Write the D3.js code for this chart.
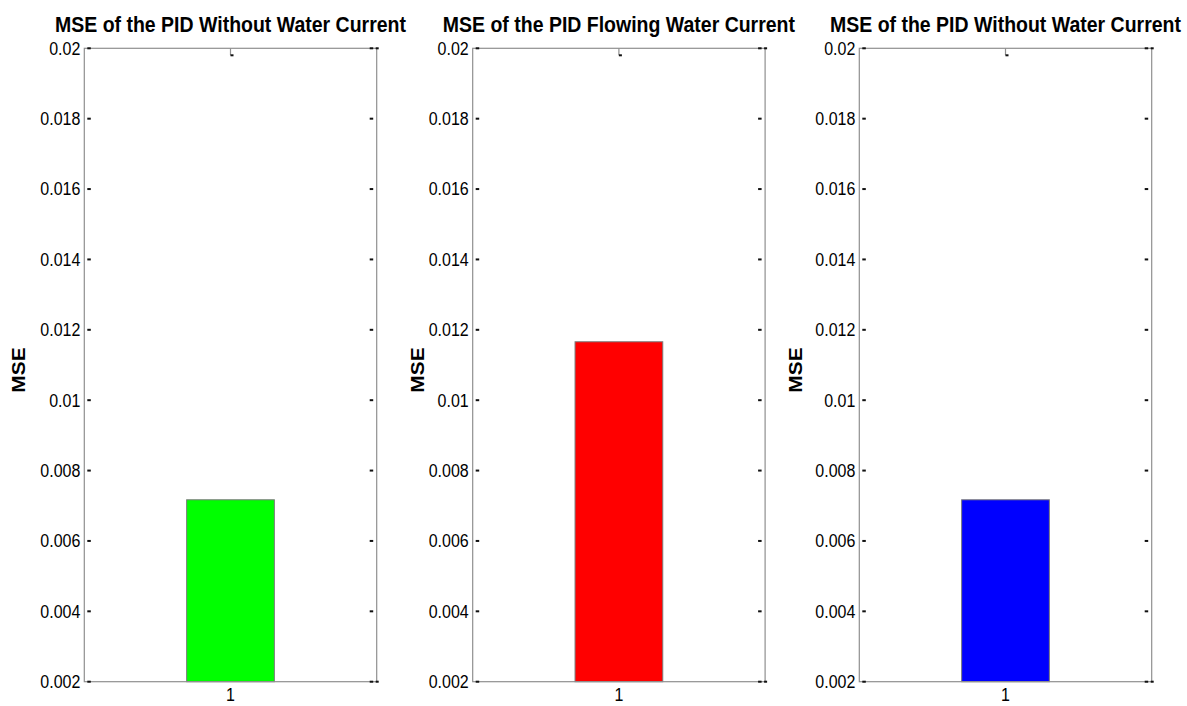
<!DOCTYPE html>
<html>
<head>
<meta charset="utf-8">
<script src="https://cdn.jsdelivr.net/npm/d3@7"></script>
<style>
  html, body { margin: 0; padding: 0; background: #fff; }
  svg { display: block; }
  text { font-family: Arial, "Liberation Sans", sans-serif; fill: #000; }
</style>
</head>
<body>
<svg id="chart" width="1187" height="706"></svg>
<script>
// Panel titles, bar positions, values and colours
const titles = [
  "MSE of the PID Without Water Current",
  "MSE of the PID Flowing Water Current",
  "MSE of the PID Without Water Current"
];
const categories = [1];
const mseValues = [0.00717, 0.01166, 0.00717];
const barColors = ["#00ff00", "#ff0000", "#0000ff"];
const yTickValues = [0.002, 0.004, 0.006, 0.008, 0.01, 0.012, 0.014, 0.016, 0.018, 0.02];
const yTickLabels = ["0.002", "0.004", "0.006", "0.008", "0.01", "0.012", "0.014", "0.016", "0.018", "0.02"];
const xTickLabels = ["1"];
const yLabel = "MSE";

// Layout of the three axes boxes
const panelLeft = [84.3, 472.7, 859.3];
const yLabelOffset = [66, 56, 64];
const panelWidth = 292.4;
const boxTop = 48.3, boxBottom = 681.7;
const stretch = 1.1;          // glyphs are slightly taller than wide
const boxColor = "#8f8f8f";

const svg = d3.select("#chart");

const y = d3.scaleLinear().domain([0.002, 0.02]).range([boxBottom, boxTop]);

titles.forEach((title, i) => {
  const left = panelLeft[i];
  const x = d3.scaleLinear().domain([0, 2]).range([left, left + panelWidth]);
  const g = svg.append("g");

  // bar
  g.selectAll("rect.bar")
    .data(categories.map(c => ({ c, v: mseValues[i] })))
    .join("rect")
    .attr("class", "bar")
    .attr("x", d => x(d.c - 0.3))
    .attr("width", d => x(d.c + 0.3) - x(d.c - 0.3))
    .attr("y", d => y(d.v))
    .attr("height", d => y(y.domain()[0]) - y(d.v))
    .attr("fill", barColors[i])
    .attr("stroke", "#7a7a7a")
    .attr("stroke-width", 1);

  // axes box
  g.append("rect")
    .attr("x", left).attr("y", boxTop)
    .attr("width", panelWidth).attr("height", boxBottom - boxTop)
    .attr("fill", "none")
    .attr("stroke", boxColor)
    .attr("stroke-width", 1.2);

  // y ticks: small dark marks just inside the left and right edges
  yTickValues.forEach(v => {
    g.append("rect")
      .attr("x", left + 3).attr("y", y(v) - 1)
      .attr("width", 3.5).attr("height", 2).attr("fill", "#111");
    g.append("rect")
      .attr("x", left + panelWidth - 7).attr("y", y(v) - 1)
      .attr("width", 3.5).attr("height", 2).attr("fill", "#111");
  });
  // corner marks on the right edge
  [boxTop, boxBottom].forEach(yy => {
    g.append("rect")
      .attr("x", left + panelWidth - 1).attr("y", yy - 1)
      .attr("width", 3).attr("height", 2).attr("fill", "#111");
  });

  // x tick on the top edge
  categories.forEach(c => {
    g.append("line")
      .attr("x1", x(c)).attr("x2", x(c))
      .attr("y1", boxTop).attr("y2", boxTop + 7)
      .attr("stroke", boxColor).attr("stroke-width", 1.2);
    g.append("rect")
      .attr("x", x(c)).attr("y", boxTop + 6)
      .attr("width", 3).attr("height", 2).attr("fill", "#111");
  });

  // y tick labels
  yTickValues.forEach((v, k) => {
    g.append("text")
      .attr("transform", `translate(${left - 4},${y(v)}) scale(1,${stretch})`)
      .attr("text-anchor", "end")
      .attr("dy", "0.36em")
      .style("font-size", "16px")
      .text(yTickLabels[k]);
  });

  // x tick labels
  categories.forEach((c, k) => {
    g.append("text")
      .attr("transform", `translate(${x(c)},${boxBottom + 19}) scale(1,${stretch})`)
      .attr("text-anchor", "middle")
      .style("font-size", "16px")
      .text(xTickLabels[k]);
  });

  // y axis label
  g.append("text")
    .attr("transform", `translate(${left - yLabelOffset[i]},${370}) scale(1,${stretch}) rotate(-90)`)
    .attr("text-anchor", "middle")
    .attr("dy", "0.36em")
    .style("font-size", "19px")
    .style("font-weight", "bold")
    .text(yLabel);

  // title
  g.append("text")
    .attr("transform", `translate(${left + panelWidth / 2},${32}) scale(1,${stretch})`)
    .attr("text-anchor", "middle")
    .style("font-size", "19.5px")
    .style("font-weight", "bold")
    .text(title);
});
</script>
</body>
</html>
